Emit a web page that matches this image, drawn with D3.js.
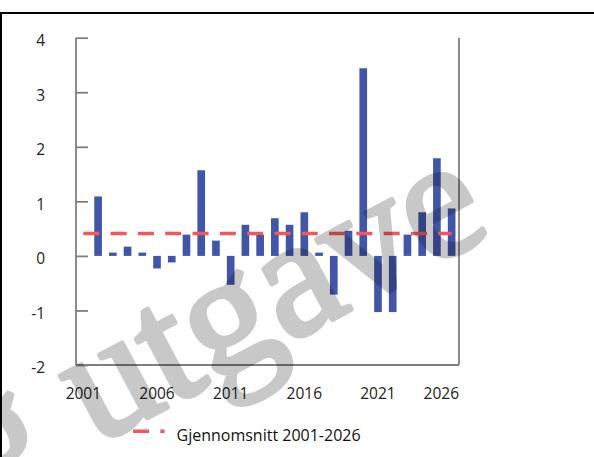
<!DOCTYPE html>
<html>
<head>
<meta charset="utf-8">
<script src="https://cdn.jsdelivr.net/npm/d3@7"></script>
<style>
  html, body { margin: 0; padding: 0; background: #fff; }
  svg { display: block; }
</style>
</head>
<body>
<svg id="chart" width="594" height="457"></svg>
<script>
// ---- data ----
const years = d3.range(2001, 2027);
const values = [null, 1.09, 0.06, 0.17, 0.06, -0.23, -0.12, 0.39, 1.57, 0.28,
                -0.53, 0.57, 0.39, 0.69, 0.57, 0.80, 0.06, -0.71, 0.46, 3.44,
                -1.03, -1.03, 0.39, 0.80, 1.79, 0.87];
const averageValue = [0.41];
const yTicks = [-2, -1, 0, 1, 2, 3, 4];
const xTickLabels = ["2001", "2006", "2011", "2016", "2021", "2026"];
const legendLabel = "Gjennomsnitt 2001-2026";
const watermarkText = "Foreløpig utgave";

const data = years.map((yr, i) => ({ year: String(yr), value: values[i] }));

const svg = d3.select("#chart");
const sansFont = "'Open Sans', 'Noto Sans', sans-serif";
const pLeft = 76, pRight = 459, pTop = 37.7, pBottom = 365;

const x = d3.scaleBand().domain(years.map(String)).range([pLeft, pRight])
  .paddingInner(0.48).paddingOuter(0.24);
const cellCenter = d => x(d) + x.bandwidth() / 2;

const y = d3.scaleLinear().domain([-2, 4]).range([pBottom, pTop]);

const axisColor = "#7f7f7f";

// outer frame
svg.append("rect").attr("x", 1).attr("y", 13).attr("width", 800).attr("height", 800)
  .attr("fill", "none").attr("stroke", "#000").attr("stroke-width", 2);

// bars
svg.append("g").selectAll("rect")
  .data(data.filter(d => d.value !== null))
  .join("rect")
  .attr("x", d => x(d.year))
  .attr("width", x.bandwidth())
  .attr("y", d => y(Math.max(0, d.value)))
  .attr("height", d => Math.abs(y(d.value) - y(0)))
  .attr("fill", "#4156a8");

// y axis
const yAxis = d3.axisLeft(y).tickValues(yTicks).tickSize(0).tickFormat(d => String(d));
const gy = svg.append("g").attr("transform", `translate(${pLeft},0)`).call(yAxis);
gy.select(".domain").remove();
gy.selectAll("text").attr("x", -31).attr("dy", "0.5em")
  .attr("fill", "#222").attr("text-anchor", "end")
  .style("font-family", sansFont).style("font-size", "15.5px");
gy.selectAll(".tick").append("line")
  .attr("x1", 0).attr("x2", 12).attr("stroke", axisColor).attr("stroke-width", 1.8);

svg.append("line").attr("x1", pLeft).attr("x2", pLeft).attr("y1", pTop).attr("y2", pBottom)
  .attr("stroke", axisColor).attr("stroke-width", 1.8);
svg.append("line").attr("x1", pRight).attr("x2", pRight).attr("y1", pTop).attr("y2", pBottom)
  .attr("stroke", axisColor).attr("stroke-width", 1.8);
svg.append("line").attr("x1", pLeft).attr("x2", pRight).attr("y1", pBottom).attr("y2", pBottom)
  .attr("stroke", axisColor).attr("stroke-width", 1.8);

// x labels
const xl = svg.append("g").selectAll("text").data(xTickLabels).join("text")
  .attr("y", 399)
  .attr("fill", "#222")
  .attr("text-anchor", "middle")
  .style("font-family", sansFont).style("font-size", "15.5px")
  .text(d => d);
xl.each(function (d) {
  const w = this.getComputedTextLength();
  const cx = Math.min(cellCenter(d), pRight - w / 2);
  d3.select(this).attr("x", cx);
});

// average dashed line
const avgData = years.map(yr => ({ year: String(yr), value: averageValue[0] }));
svg.append("path")
  .datum(avgData)
  .attr("d", d3.line().x(d => cellCenter(d.year)).y(d => y(d.value)))
  .attr("fill", "none").attr("stroke", "#f0585e").attr("stroke-width", 3.5)
  .attr("stroke-dasharray", "16,11.3");

// legend
svg.append("line").attr("x1", 133).attr("x2", 164.5).attr("y1", 431.3).attr("y2", 431.3)
  .attr("stroke", "#f0585e").attr("stroke-width", 3.5).attr("stroke-dasharray", "16,11.3");
svg.append("text").attr("x", 176.5).attr("y", 441).attr("fill", "#111")
  .style("font-family", sansFont).style("font-size", "16px")
  .text(legendLabel);

// watermark (group opacity so fill + stroke composite as one layer)
svg.append("g").attr("opacity", 0.21)
  .append("text")
  .attr("transform", "translate(495,233) rotate(-28)")
  .attr("text-anchor", "end")
  .style("font-family", "'Liberation Serif', 'DejaVu Serif', serif")
  .style("font-weight", "normal")
  .style("font-size", "170px")
  .attr("fill", "#000")
  .attr("stroke", "#000").attr("stroke-width", 5).attr("stroke-linejoin", "round")
  .text(watermarkText);
</script>
</body>
</html>
